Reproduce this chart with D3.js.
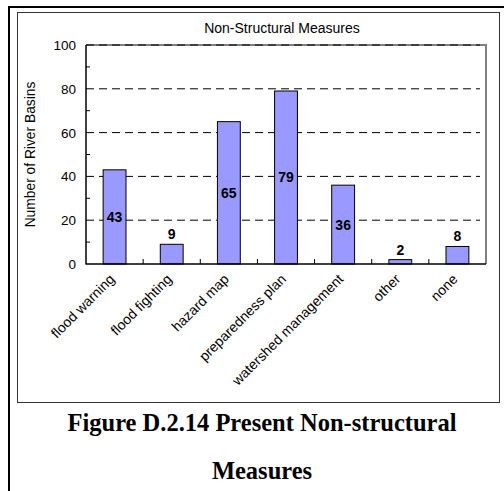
<!DOCTYPE html>
<html>
<head>
<meta charset="utf-8">
<script src="https://cdn.jsdelivr.net/npm/d3@7"></script>
<style>
  body { margin: 0; background: #fff; }
  svg { display: block; }
</style>
</head>
<body>
<svg id="chart" width="504" height="491"></svg>
<script>
// data
var categories = ["flood warning", "flood fighting", "hazard map", "preparedness plan", "watershed management", "other", "none"]
var basins = [43, 9, 65, 79, 36, 2, 8]
var majorTicks = [0, 20, 40, 60, 80, 100]
var minorTicks = [10, 30, 50, 70, 90]
var chartTitle = "Non-Structural Measures"
var yTitle = "Number of River Basins"
var captionLines = ["Figure D.2.14 Present Non-structural", "Measures"]

var svg = d3.select('#chart')

// outer page frame (top + left edges)
svg.append("line").attr("x1", 8).attr("y1", 7).attr("x2", 504).attr("y2", 7)
  .attr("stroke", "#000").attr("stroke-width", 2)
svg.append("line").attr("x1", 9).attr("y1", 6).attr("x2", 9).attr("y2", 491)
  .attr("stroke", "#000").attr("stroke-width", 2)

// chart box
svg.append("rect").attr("x", 17.5).attr("y", 12.5).attr("width", 482).attr("height", 390)
  .attr("fill", "#fff").attr("stroke", "#333").attr("stroke-width", 1)

var plot = {left: 86, right: 486, top: 45, bottom: 264}

var x = d3.scaleBand()
  .domain(categories)
  .range([plot.left, plot.right])
  .paddingInner(0.6)
  .paddingOuter(0.3)

var y = d3.scaleLinear()
  .domain([0, 100])
  .range([plot.bottom, plot.top])

var font = "Liberation Sans, Arial, sans-serif"

// plot area border (grey top/right)
svg.append("path")
  .attr("d", "M" + plot.left + "," + plot.top + "H" + plot.right + "V" + plot.bottom)
  .attr("fill", "none").attr("stroke", "#808080").attr("stroke-width", 2)

// dashed gridlines
svg.append("g")
  .selectAll("line")
  .data(majorTicks.filter(d => d > 0))
  .join("line")
  .attr("x1", plot.left).attr("x2", plot.right - 6)
  .attr("y1", d => y(d)).attr("y2", d => y(d))
  .attr("stroke", "#000").attr("stroke-width", 1)
  .attr("stroke-dasharray", "8,5")

// minor ticks on the y axis (inside)
svg.append("g")
  .selectAll("line")
  .data(minorTicks)
  .join("line")
  .attr("x1", plot.left).attr("x2", plot.left + 4)
  .attr("y1", d => y(d)).attr("y2", d => y(d))
  .attr("stroke", "#000")

// bars
svg.append("g")
  .selectAll("rect")
  .data(basins)
  .join("rect")
  .attr("x", (d, i) => x(categories[i]))
  .attr("y", d => y(d))
  .attr("width", x.bandwidth())
  .attr("height", d => y(0) - y(d))
  .attr("fill", "#9999ff")
  .attr("stroke", "#000")
  .attr("stroke-width", 1)

// category separators on the x axis (inside)
svg.append("g")
  .selectAll("line")
  .data(categories.slice(1))
  .join("line")
  .attr("x1", d => x(d) - x.bandwidth() * 0.75).attr("x2", d => x(d) - x.bandwidth() * 0.75)
  .attr("y1", plot.bottom).attr("y2", plot.bottom - 5)
  .attr("stroke", "#000")

// axes lines
svg.append("line").attr("x1", plot.left).attr("x2", plot.left)
  .attr("y1", plot.top).attr("y2", plot.bottom + 0.5).attr("stroke", "#000").attr("stroke-width", 1.5)
svg.append("line").attr("x1", plot.left).attr("x2", plot.right)
  .attr("y1", plot.bottom).attr("y2", plot.bottom).attr("stroke", "#000").attr("stroke-width", 1.5)

// y tick labels
svg.append("g")
  .selectAll("text")
  .data(majorTicks)
  .join("text")
  .attr("x", 76)
  .attr("y", d => y(d) + 5)
  .attr("text-anchor", "end")
  .attr("font-family", font).attr("font-size", 13.5)
  .text(d => d)

// x tick labels, rotated
svg.append("g")
  .selectAll("text")
  .data(categories)
  .join("text")
  .attr("transform", d => "translate(" + (x(d) + x.bandwidth() / 2 + 1) + "," + (plot.bottom + 16) + ") rotate(-45)")
  .attr("text-anchor", "end")
  .attr("font-family", font).attr("font-size", 14)
  .text(d => d)

// value labels: centred in tall bars, above short ones
svg.append("g")
  .selectAll("text")
  .data(basins)
  .join("text")
  .attr("x", (d, i) => x(categories[i]) + x.bandwidth() / 2)
  .attr("y", d => (y(0) - y(d) > 25) ? (y(d) + y(0)) / 2 + 5 : y(d) - 5)
  .attr("text-anchor", "middle")
  .attr("font-family", font).attr("font-size", 14).attr("font-weight", "bold")
  .text(d => d)

// chart title
svg.append("text")
  .attr("x", 282).attr("y", 33)
  .attr("text-anchor", "middle")
  .attr("font-family", font).attr("font-size", 14)
  .text(chartTitle)

// y axis title
svg.append("text")
  .attr("transform", "translate(35," + ((plot.top + plot.bottom) / 2) + ") rotate(-90)")
  .attr("text-anchor", "middle")
  .attr("font-family", font).attr("font-size", 13.8)
  .text(yTitle)

// figure caption
svg.append("g")
  .selectAll("text")
  .data(captionLines)
  .join("text")
  .attr("x", 262)
  .attr("y", (d, i) => 431 + i * 48)
  .attr("text-anchor", "middle")
  .attr("font-family", "Liberation Serif, Times New Roman, serif")
  .attr("font-size", 24.5).attr("font-weight", "bold")
  .attr("letter-spacing", 0)
  .text(d => d)
</script>
</body>
</html>
